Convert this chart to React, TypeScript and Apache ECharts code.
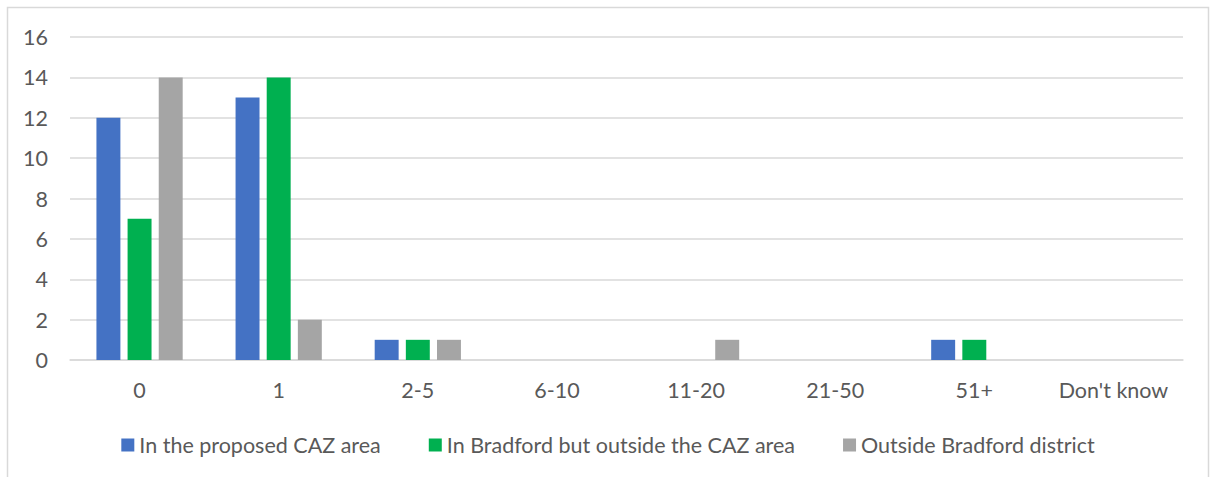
import React, { useEffect, useRef } from "react";
import * as echarts from "echarts";

const categories = ["0", "1", "2-5", "6-10", "11-20", "21-50", "51+", "Don't know"];
const seriesNames = [
  "In the proposed CAZ area",
  "In Bradford but outside the CAZ area",
  "Outside Bradford district",
];
const cazArea = [12, 13, 1, 0, 0, 0, 1, 0];
const bradfordOutside = [7, 14, 1, 0, 0, 0, 1, 0];
const outsideDistrict = [14, 2, 1, 0, 1, 0, 0, 0];
const colors = ["#4472C4", "#00B050", "#A5A5A5"];

export default function App() {
  const ref = useRef<HTMLDivElement>(null);
  useEffect(() => {
    if (!ref.current) return;
    const chart = echarts.init(ref.current, undefined, { renderer: "svg" });
    const font = "Lato";
    const values = [cazArea, bradfordOutside, outsideDistrict];
    chart.setOption({
      animation: false,
      backgroundColor: "#ffffff",
      graphic: [
        {
          type: "rect",
          shape: { x: 7.5, y: 7.5, width: 1201, height: 480 },
          style: { fill: "none", stroke: "#d9d9d9", lineWidth: 1.5 },
          silent: true,
        },
      ],
      grid: { left: 70, right: 33, top: 37, bottom: 117, containLabel: false },
      legend: {
        top: 429,
        left: "center",
        itemWidth: 13,
        itemHeight: 13,
        itemGap: 48,
        icon: "rect",
        textStyle: { fontFamily: font, fontSize: 21.5, color: "#595959" },
        data: seriesNames,
      },
      xAxis: {
        type: "category",
        data: categories,
        axisLine: { lineStyle: { color: "#d9d9d9", width: 1.5 } },
        axisTick: { show: false },
        axisLabel: { fontFamily: font, fontSize: 21.5, color: "#595959", margin: 19, interval: 0 },
      },
      yAxis: {
        type: "value",
        min: 0,
        max: 16,
        interval: 2,
        axisLine: { show: false },
        axisTick: { show: false },
        splitLine: { lineStyle: { color: "#d9d9d9", width: 1.5 } },
        axisLabel: { fontFamily: font, fontSize: 21.5, color: "#595959", margin: 22 },
      },
      series: seriesNames.map((name, i) => ({
        name,
        type: "bar",
        data: values[i],
        barGap: "30%",
        barCategoryGap: "38%",
        itemStyle: { color: colors[i] },
      })),
    });
    return () => chart.dispose();
  }, []);
  return (
    <div
      ref={ref}
      style={{ position: "fixed", left: 0, top: 0, width: 1216, height: 477 }}
    />
  );
}
